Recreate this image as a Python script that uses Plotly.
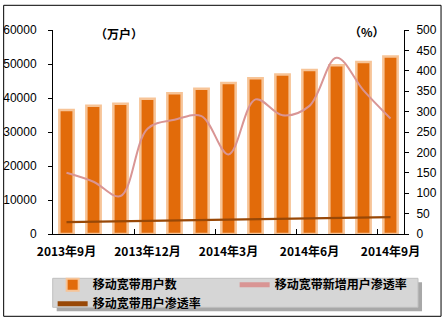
import plotly.graph_objects as go

# ---- data ----
months = ["2013年9月", "2013年10月", "2013年11月", "2013年12月", "2014年1月", "2014年2月",
          "2014年3月", "2014年4月", "2014年5月", "2014年6月", "2014年7月", "2014年8月", "2014年9月"]
users = [36500, 37700, 38300, 39800, 41400, 42700, 44400, 45800, 46900, 48200, 49600, 50600, 52200]
new_rate = [150, 128, 93, 258, 280, 289, 195, 330, 291, 314, 432, 352, 283]
rate = [29, 30, 30.5, 31.5, 32.5, 33.5, 34.5, 35.5, 36.5, 38, 39, 40.5, 41.5]
tick_idx = [0, 3, 6, 9, 12]
boundary_ticks = [2.5, 5.5, 8.5, 11.5]

W, H = 448, 324
L, R, T, B = 53.3, 404.0, 29.7, 233.7  # plot area pixel bounds
CJK = "Noto Sans CJK SC"

def px(x):
    return (x - L) / (R - L)

def py(y):
    return (B - y) / (B - T)

x = list(range(len(months)))

fig = go.Figure()
fig.add_trace(go.Bar(
    x=x, y=users, name="移动宽带用户数", width=0.53,
    marker=dict(color="#E26B0A", line=dict(color="#F7C497", width=2.5)),
))
fig.add_trace(go.Scatter(
    x=x, y=new_rate, name="移动宽带新增用户渗透率", yaxis="y2", mode="lines",
    line=dict(color="#D99594", width=2, shape="spline", smoothing=1.0),
))
fig.add_trace(go.Scatter(
    x=x, y=rate, name="移动宽带用户渗透率", yaxis="y2", mode="lines",
    line=dict(color="#984807", width=2.2),
))

shapes = [
    # outer frame
    dict(type="rect", xref="paper", yref="paper", x0=px(4), x1=px(441), y0=py(316), y1=py(5),
         line=dict(color="black", width=1), fillcolor="rgba(0,0,0,0)", layer="below"),
    # legend shadow
    dict(type="rect", xref="paper", yref="paper", x0=px(57), x1=px(422), y0=py(311), y1=py(282),
         line=dict(width=0), fillcolor="#A8A8A8", layer="above"),
    # legend box
    dict(type="rect", xref="paper", yref="paper", x0=px(53), x1=px(418), y0=py(307), y1=py(278),
         line=dict(color="#C0C0C0", width=1), fillcolor="#D6D6D6", layer="above"),
]

fig.update_layout(
    width=W, height=H,
    margin=dict(l=L, r=W - R, t=T, b=H - B, pad=0, autoexpand=False),
    paper_bgcolor="white", plot_bgcolor="white",
    showlegend=True,
    font=dict(family="Liberation Sans, Arial", size=12, color="black"),
    xaxis=dict(
        range=[-0.5, 12.5], tickvals=tick_idx, ticktext=[months[i] for i in tick_idx],
        ticks="", showline=True, linecolor="black", linewidth=1, showgrid=False, zeroline=False,
        tickfont=dict(family=CJK, size=12, color="black", weight="bold"),
        ticklabelstandoff=7,
        minor=dict(tickvals=boundary_ticks, ticks="inside", ticklen=5, tickcolor="black", tickwidth=1,
                   showgrid=False),
    ),
    yaxis=dict(
        range=[0, 60000], dtick=10000, tickformat="d", ticks="outside", ticklen=4,
        tickcolor="black", showline=True, linecolor="black", linewidth=1, showgrid=False,
        zeroline=False, ticklabelstandoff=9,
        tickfont=dict(family="Liberation Sans, Arial", size=12, color="black"),
    ),
    yaxis2=dict(
        range=[0, 500], dtick=50, overlaying="y", side="right", ticks="outside", ticklen=4,
        tickcolor="black", showline=True, linecolor="black", linewidth=1, showgrid=False,
        zeroline=False, ticklabelstandoff=5,
        tickfont=dict(family="Liberation Sans, Arial", size=12, color="black"),
    ),
    legend=dict(
        orientation="h", x=-0.001, xanchor="left", y=py(270), yanchor="top",
        bgcolor="rgba(0,0,0,0)", borderwidth=0,
        entrywidth=137, entrywidthmode="pixels", traceorder="normal",
        font=dict(family=CJK, size=12, color="black", weight="bold"),
        itemsizing="constant", tracegroupgap=0,
    ),
    shapes=shapes,
    annotations=[
        dict(text="（万户）", xref="paper", yref="paper", x=px(93.5), y=py(22.7),
             showarrow=False, font=dict(family=CJK, size=12, color="black", weight="bold")),
        dict(text="（%）", xref="paper", yref="paper", x=px(387), y=py(21),
             showarrow=False, font=dict(family=CJK, size=12, color="black", weight="bold")),
    ],
)

fig.write_html("out.html")
